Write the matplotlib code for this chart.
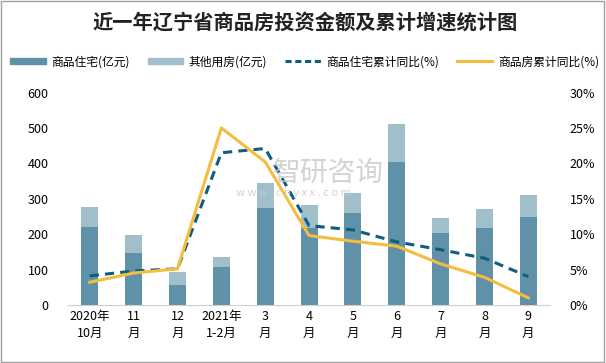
import matplotlib
matplotlib.use("Agg")
import matplotlib.pyplot as plt
from matplotlib.patches import Rectangle
from matplotlib.lines import Line2D
from matplotlib.ticker import FuncFormatter
import numpy as np

plt.rcParams['font.family'] = ['Noto Sans CJK SC', 'DejaVu Sans']

categories = ["2020年\n10月", "11\n月", "12\n月", "2021年\n1-2月", "3\n月", "4\n月",
              "5\n月", "6\n月", "7\n月", "8\n月", "9\n月"]
residential = [220, 147, 56, 107, 274, 218, 260, 404, 203, 218, 249]
total = [277, 198, 93, 136, 344, 282, 315, 511, 246, 271, 311]
other = [t - r for t, r in zip(total, residential)]
resid_growth = [4.1, 4.8, 5.1, 21.5, 22.1, 11.2, 10.6, 8.9, 7.8, 6.6, 4.0]
house_growth = [3.2, 4.5, 5.1, 25.0, 20.2, 9.8, 9.0, 8.3, 5.8, 3.9, 1.0]

c_res = "#5f91a8"
c_oth = "#a0bfcb"
c_dash = "#0f5e7e"
c_line = "#f5bd3f"

fig = plt.figure(figsize=(6.06, 3.63), dpi=100)
ax = fig.add_axes([0.112, 0.16, 0.796, 0.585])
x = np.arange(len(categories))
w = 0.39
ax.bar(x, residential, w, color=c_res, zorder=2)
ax.bar(x, other, w, bottom=residential, color=c_oth, zorder=2)
ax.set_xlim(-0.5, len(categories) - 0.5)
ax.set_ylim(0, 600)
ax.set_yticks(range(0, 601, 100))
ax.set_xticks(x)
ax.set_xticklabels(categories, fontsize=9, linespacing=1.4)
ax.tick_params(axis='both', length=0, labelsize=9)
ax.tick_params(axis='y', pad=14)
for s in ['top', 'right', 'left']:
    ax.spines[s].set_visible(False)
ax.spines['bottom'].set_color('#d0d0d0')

ax2 = ax.twinx()
ax2.plot(x, resid_growth, color=c_dash, lw=2.2, ls=(0, (3, 2)), zorder=3)
ax2.plot(x, house_growth, color=c_line, lw=2.2, zorder=3)
ax2.set_ylim(0, 30)
ax2.set_yticks(range(0, 31, 5))
ax2.yaxis.set_major_formatter(FuncFormatter(lambda v, p: f"{int(v)}%"))
ax2.tick_params(axis='y', length=0, labelsize=9, pad=14)
for s in ['top', 'right', 'left', 'bottom']:
    ax2.spines[s].set_visible(False)

fig.text(0.503, 0.94, "近一年辽宁省商品房投资金额及累计增速统计图", ha='center', va='center',
         fontsize=14.6, fontweight='bold', color='#222222')

handles = [Rectangle((0, 0), 1, 1, color=c_res), Rectangle((0, 0), 1, 1, color=c_oth),
           Line2D([], [], color=c_dash, lw=2.2, ls=(0, (2, 1.2))),
           Line2D([], [], color=c_line, lw=2.2)]
labels = ["商品住宅(亿元)", "其他用房(亿元)", "商品住宅累计同比(%)", "商品房累计同比(%)"]
leg = fig.legend(handles, labels, loc='center', bbox_to_anchor=(0.503, 0.83), ncol=4,
                 frameon=False, fontsize=8.5, handlelength=3.0, handleheight=0.5,
                 columnspacing=1.5, handletextpad=0.5)

fig.text(0.45, 0.525, "智研咨询", ha='left', va='center', fontsize=20, color='#c8c8c8', alpha=0.8)
fig.text(0.39, 0.468, "w w w . c h y x x . c o m", ha='left', va='center', fontsize=8, color='#c8c8c8', alpha=0.8)

fig.add_artist(Rectangle((0.001, 0.004), 0.996, 0.993, transform=fig.transFigure,
                         fill=False, edgecolor='#a0a0a0', lw=1))

fig.savefig("out.png", dpi=100)
